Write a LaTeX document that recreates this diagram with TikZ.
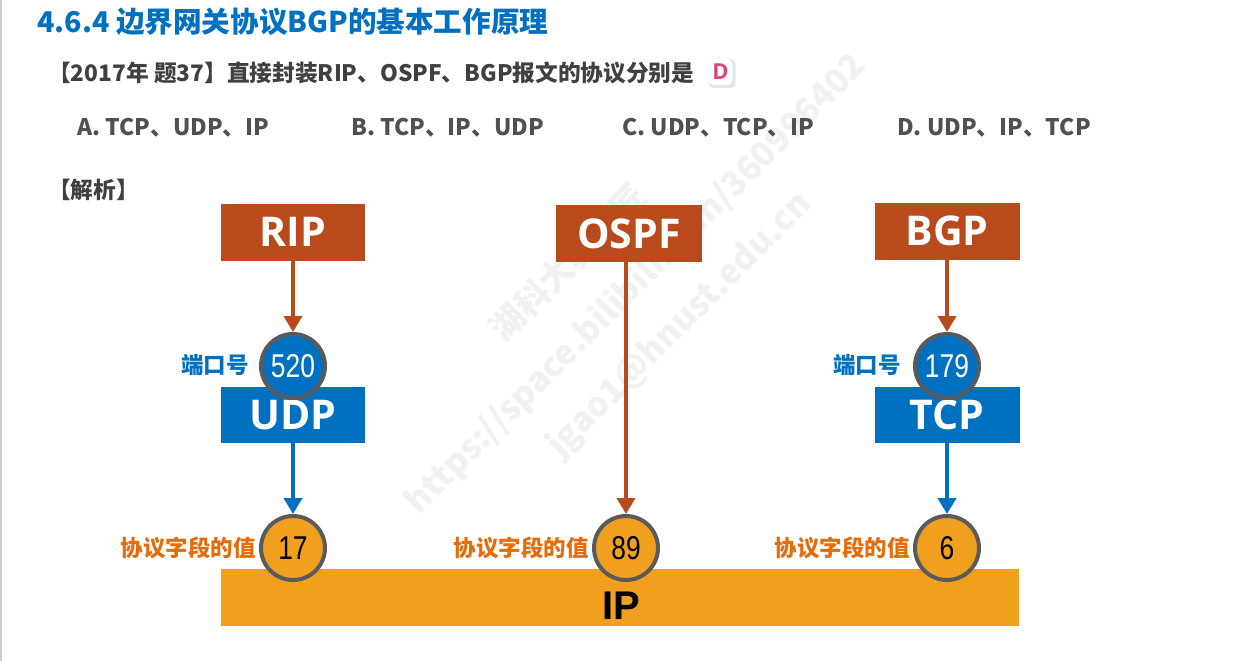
\documentclass[tikz,border=0pt]{standalone}
\usepackage{fontspec}
\setmainfont{Noto Sans CJK SC}
\newfontfamily\boxfont{Open Sans}
\newfontfamily\numfont{Liberation Sans}
\usetikzlibrary{arrows.meta}
\definecolor{brn}{HTML}{B84A1B}
\definecolor{blu}{HTML}{0070C0}
\definecolor{org}{HTML}{F0A01E}
\definecolor{ring}{HTML}{5A5A5A}
\definecolor{lbl}{HTML}{E46C0A}
\definecolor{txt}{HTML}{404040}
\definecolor{opt}{HTML}{505050}
\definecolor{pinkd}{HTML}{D9437E}
\definecolor{wm}{HTML}{F1F1F1}
\begin{document}
\begin{tikzpicture}[x=1pt,y=-1pt,
 protobox/.style={rectangle, inner sep=0pt, minimum width=144pt, minimum height=57pt, text=white, font=\boxfont\bfseries\fontsize{41}{41}\selectfont},
 brnbox/.style={protobox, fill=brn},
 blubox/.style={protobox, fill=blu, minimum height=56pt},
 numcirc/.style={circle, inner sep=0pt, minimum size=64pt, draw=ring, line width=4pt, font=\numfont\fontsize{33}{33}\selectfont},
 portc/.style={numcirc, fill=blu, text=white},
 fieldc/.style={numcirc, fill=org, text=black},
 arr/.style={-{Triangle[width=18pt,length=16pt]}, line width=4pt},
 portlbl/.style={anchor=east, inner sep=0pt, text=blu, font=\bfseries\fontsize{22.5}{22.5}\selectfont},
 fieldlbl/.style={anchor=east, inner sep=0pt, text=lbl, font=\bfseries\fontsize{22.5}{22.5}\selectfont},
 head/.style={anchor=west, inner sep=0pt, text=txt, font=\bfseries\fontsize{22.7}{22.7}\selectfont},
 option/.style={anchor=west, inner sep=0pt, text=opt, font=\bfseries\fontsize{22.8}{22.8}\selectfont},
 wmark/.style={text=wm, rotate=45, inner sep=0pt, font=\bfseries\fontsize{34}{34}\selectfont}
]
\useasboundingbox (0,0) rectangle (1243,661);
\fill[white] (0,0) rectangle (1243,661);
\fill[gray!40] (0,0) rectangle (2,661);
% watermark
\node[wmark] (wm1) at (568,262) {湖科大教书匠};
\node[wmark] (wm2) at (636,284) {https://space.bilibili.com/360996402};
\node[wmark] (wm3) at (680,325) {jgao1@hnust.edu.cn};
% header texts
\node[anchor=west, inner sep=0pt, text=blu, font=\bfseries\fontsize{28.6}{28.6}\selectfont] (title) at (37,22) {4.6.4 边界网关协议BGP的基本工作原理};
\node[head] (question) at (48,73) {【2017年 题37】直接封装RIP、OSPF、BGP报文的协议分别是};
\node[rectangle, rounded corners=5pt, fill=gray!20, minimum width=27pt, minimum height=29pt, inner sep=0pt] (dshadow) at (722,73.5) {};
\node[rectangle, rounded corners=5pt, fill=white, minimum width=24pt, minimum height=26pt, inner sep=0pt, text=pinkd, font=\boxfont\bfseries\fontsize{22}{22}\selectfont] (answer) at (720.5,72) {D};
\node[option] (optA) at (77,128) {A. TCP、UDP、IP};
\node[option] (optB) at (351,128) {B. TCP、IP、UDP};
\node[option] (optC) at (622,128) {C. UDP、TCP、IP};
\node[option] (optD) at (897,128) {D. UDP、IP、TCP};
\node[head] (analysis) at (48,190) {【解析】};
% IP bar
\node[rectangle, fill=org, minimum width=798pt, minimum height=57pt, inner sep=0pt] (ipbar) at (620,597.5) {};
\node[inner sep=0pt, font=\numfont\bfseries\fontsize{40}{40}\selectfont] (iptext) at (621,606) {IP};
% boxes
\node[brnbox] (rip) at (293,232) {RIP};
\node[brnbox, minimum width=146pt] (ospf) at (629,233.5) {OSPF};
\node[brnbox, minimum width=145pt] (bgp) at (947,231) {BGP};
\node[blubox] (udp) at (293,415) {UDP};
\node[blubox, minimum width=145pt] (tcp) at (947,415) {TCP};
% circles
\node[portc] (c520) at (293,366) {\scalebox{0.8}[1]{520}};
\node[portc] (c179) at (947,366) {\scalebox{0.8}[1]{179}};
\node[fieldc] (c17) at (293,548) {\scalebox{0.8}[1]{17}};
\node[fieldc] (c89) at (626,548) {\scalebox{0.8}[1]{89}};
\node[fieldc] (c6) at (947,548) {\scalebox{0.8}[1]{6}};
% labels
\node[portlbl] (p1) at (249,365) {端口号};
\node[portlbl] (p2) at (901,365) {端口号};
\node[fieldlbl] (f1) at (256,548) {协议字段的值};
\node[fieldlbl] (f2) at (589,548) {协议字段的值};
\node[fieldlbl] (f3) at (910,548) {协议字段的值};
% arrows
\draw[arr, brn] (rip) -- (c520);
\draw[arr, brn] (bgp) -- (c179);
\draw[arr, brn] (ospf.south -| c89) -- (c89);
\draw[arr, blu] (udp) -- (c17);
\draw[arr, blu] (tcp) -- (c6);
\end{tikzpicture}
\end{document}
